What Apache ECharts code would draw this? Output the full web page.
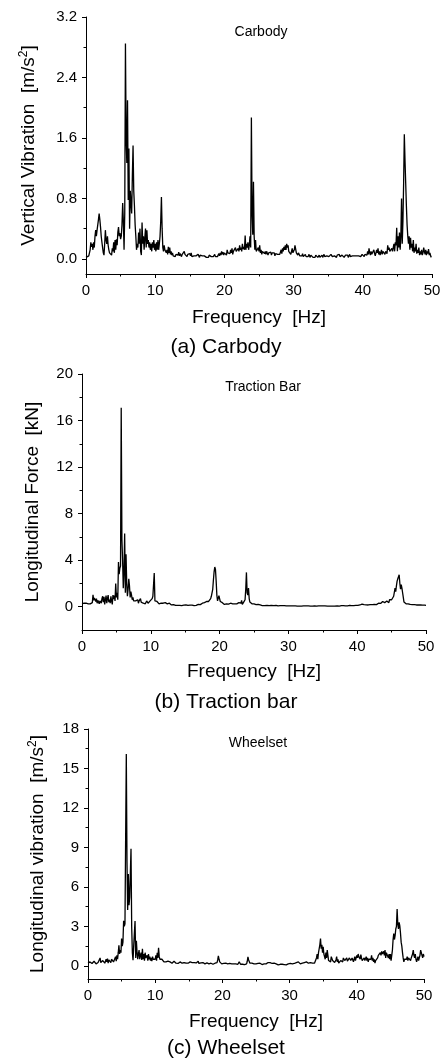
<!DOCTYPE html>
<html>
<head>
<meta charset="utf-8">
<script src="https://cdn.jsdelivr.net/npm/echarts@6/dist/echarts.min.js"></script>
<style>
  html, body { margin: 0; padding: 0; background: #fff; }
  #chart { width: 444px; height: 1061px; }
</style>
</head>
<body>
<div id="chart"></div>
<script>
// spectra sampled every 0.1 Hz from 0 to 50 Hz (one row = 1 Hz)
const freqStep = 0.1;

// (a) carbody vertical vibration, m/s^2
const carbodyAmp = [
  0.02,0.02,0.03,0.03,0.04,0.06,0.12,0.22,0.16,0.2,
  0.12,0.22,0.15,0.3,0.38,0.3,0.38,0.45,0.52,0.6,
  0.52,0.42,0.3,0.22,0.15,0.08,0.05,0.2,0.38,0.25,
  0.2,0.3,0.18,0.12,0.08,0.06,0.1,0.05,0.14,0.1,
  0.22,0.08,0.25,0.12,0.26,0.18,0.35,0.42,0.3,0.34,
  0.26,0.3,0.45,0.74,0.5,0.12,0.6,2.85,1.6,1.27,
  2.1,0.78,1.46,0.4,0.9,0.88,0.6,1.1,1.5,0.9,
  0.7,0.45,0.3,0.12,0.2,0.15,0.35,0.2,0.4,0.1,
  0.05,0.48,0.2,0.3,0.12,0.28,0.4,0.15,0.38,0.2,
  0.25,0.15,0.22,0.12,0.2,0.1,0.22,0.15,0.25,0.12,
  0.2,0.1,0.22,0.12,0.25,0.12,0.2,0.3,0.5,0.82,
  0.4,0.15,0.1,0.18,0.12,0.1,0.08,0.12,0.06,0.16,
  0.08,0.15,0.06,0.1,0.05,0.08,0.04,0.06,0.05,0.03,
  0.06,0.04,0.08,0.05,0.09,0.04,0.07,0.05,0.03,0.06,
  0.08,0.05,0.1,0.06,0.04,0.05,0.03,0.06,0.04,0.05,
  0.07,0.04,0.08,0.03,0.05,0.02,0.04,0.06,0.03,0.04,
  0.05,0.03,0.06,0.04,0.02,0.05,0.03,0.06,0.04,0.03,
  0.02,0.04,0.06,0.03,0.02,0.04,0.03,0.02,0.05,0.07,
  0.04,0.03,0.05,0.02,0.03,0.04,0.06,0.03,0.02,0.04,
  0.03,0.05,0.07,0.04,0.08,0.05,0.1,0.06,0.09,0.05,
  0.08,0.06,0.1,0.05,0.12,0.08,0.06,0.1,0.07,0.12,
  0.08,0.14,0.06,0.1,0.12,0.08,0.15,0.1,0.12,0.08,
  0.14,0.1,0.18,0.12,0.15,0.1,0.2,0.13,0.16,0.12,
  0.31,0.12,0.2,0.15,0.22,0.12,0.18,0.3,0.15,1.87,
  0.6,0.32,1.02,0.3,0.12,0.25,0.1,0.12,0.08,0.15,
  0.1,0.18,0.08,0.12,0.06,0.1,0.08,0.12,0.07,0.1,
  0.06,0.1,0.12,0.05,0.08,0.1,0.06,0.09,0.05,0.08,
  0.1,0.06,0.08,0.04,0.07,0.05,0.09,0.06,0.05,0.04,
  0.06,0.08,0.12,0.07,0.14,0.1,0.16,0.12,0.18,0.12,
  0.2,0.15,0.18,0.1,0.08,0.12,0.06,0.1,0.14,0.08,
  0.06,0.12,0.18,0.2,0.08,0.1,0.05,0.08,0.06,0.04,
  0.05,0.06,0.04,0.07,0.03,0.05,0.04,0.06,0.03,0.05,
  0.04,0.03,0.06,0.04,0.02,0.05,0.03,0.04,0.02,0.03,
  0.04,0.02,0.05,0.03,0.04,0.02,0.03,0.05,0.02,0.04,
  0.03,0.05,0.02,0.04,0.06,0.03,0.05,0.02,0.04,0.03,
  0.05,0.03,0.04,0.02,0.06,0.04,0.03,0.05,0.02,0.04,
  0.03,0.04,0.02,0.05,0.03,0.04,0.06,0.03,0.02,0.04,
  0.05,0.03,0.04,0.02,0.03,0.05,0.04,0.03,0.05,0.02,
  0.04,0.06,0.03,0.05,0.02,0.04,0.03,0.05,0.04,0.03,
  0.06,0.04,0.05,0.03,0.04,0.02,0.05,0.03,0.04,0.06,
  0.04,0.05,0.03,0.06,0.04,0.08,0.05,0.1,0.06,0.14,
  0.08,0.05,0.1,0.06,0.08,0.05,0.12,0.07,0.04,0.06,
  0.12,0.08,0.14,0.06,0.1,0.05,0.08,0.12,0.06,0.1,
  0.08,0.12,0.06,0.1,0.08,0.07,0.18,0.12,0.15,0.1,
  0.12,0.08,0.14,0.1,0.08,0.2,0.1,0.22,0.18,0.41,
  0.1,0.3,0.15,0.35,0.12,0.3,0.8,0.2,0.5,1.0,
  1.65,1.3,1.0,0.7,0.45,0.3,0.2,0.3,0.12,0.28,
  0.15,0.2,0.1,0.25,0.08,0.15,0.1,0.2,0.07,0.12,
  0.08,0.15,0.05,0.1,0.06,0.12,0.05,0.08,0.15,0.1,
  0.06,0.12,0.05,0.1,0.07,0.13,0.05,0.08,0.04,0.02,
  0.02
];

// (b) traction bar longitudinal force, kN
const tractionForce = [
  0.25,0.28,0.26,0.3,0.25,0.27,0.3,0.26,0.28,0.25,
  0.3,0.27,0.25,0.3,0.28,0.35,1.03,0.55,0.75,0.6,
  0.45,0.7,0.3,0.55,0.4,0.25,0.5,0.35,0.3,0.7,
  0.9,0.4,0.85,0.2,0.6,0.95,0.3,0.7,1.0,0.4,
  0.6,0.3,0.9,0.5,0.2,1.0,0.65,0.95,0.5,2.0,
  0.8,1.2,0.6,3.84,2.8,3.3,3.5,17.1,5.8,4.0,
  1.6,3.0,6.3,1.2,4.5,2.0,0.9,1.5,2.4,1.8,
  0.8,1.3,1.0,0.6,0.8,0.5,0.6,0.4,0.5,0.35,
  0.45,0.6,0.3,0.5,0.35,0.7,0.4,0.3,0.45,0.3,
  0.35,0.4,0.25,0.3,0.5,0.35,0.3,0.45,0.4,0.5,
  0.5,0.6,0.7,0.9,1.0,2.9,0.5,0.4,0.35,0.45,
  0.3,0.4,0.25,0.35,0.2,0.3,0.4,0.25,0.3,0.2,
  0.25,0.35,0.2,0.3,0.25,0.4,0.2,0.3,0.15,0.2,
  0.15,0.2,0.12,0.18,0.1,0.15,0.12,0.1,0.14,0.12,
  0.1,0.14,0.12,0.08,0.13,0.1,0.12,0.09,0.14,0.1,
  0.12,0.15,0.1,0.13,0.11,0.16,0.1,0.14,0.12,0.1,
  0.14,0.12,0.18,0.1,0.15,0.2,0.12,0.16,0.14,0.2,
  0.15,0.22,0.18,0.25,0.2,0.3,0.22,0.28,0.35,0.25,
  0.3,0.45,0.4,0.55,0.45,0.6,0.5,0.7,0.9,1.0,
  1.5,2.3,3.0,3.41,3.2,2.2,1.0,0.5,0.6,0.95,
  0.7,0.45,0.4,0.3,0.35,0.25,0.3,0.2,0.28,0.2,
  0.25,0.2,0.3,0.22,0.18,0.25,0.3,0.2,0.45,0.25,
  0.2,0.3,0.25,0.2,0.35,0.25,0.2,0.3,0.35,0.25,
  0.4,0.3,0.55,0.2,0.35,0.4,0.45,0.6,1.5,2.95,
  1.2,1.0,1.6,0.7,0.4,0.5,0.3,0.25,0.35,0.2,
  0.25,0.2,0.3,0.18,0.22,0.15,0.2,0.12,0.18,0.15,
  0.12,0.15,0.1,0.14,0.12,0.1,0.13,0.11,0.1,0.12,
  0.18,0.12,0.1,0.14,0.1,0.12,0.08,0.11,0.1,0.09,
  0.1,0.08,0.12,0.09,0.11,0.08,0.1,0.12,0.09,0.1,
  0.12,0.1,0.15,0.08,0.1,0.09,0.11,0.08,0.1,0.09,
  0.08,0.1,0.09,0.07,0.1,0.08,0.09,0.07,0.08,0.1,
  0.08,0.07,0.09,0.06,0.08,0.07,0.06,0.08,0.07,0.06,
  0.07,0.06,0.08,0.05,0.07,0.06,0.08,0.06,0.05,0.07,
  0.06,0.08,0.05,0.07,0.06,0.05,0.07,0.06,0.08,0.05,
  0.06,0.05,0.07,0.06,0.08,0.05,0.06,0.07,0.05,0.06,
  0.07,0.05,0.06,0.08,0.05,0.07,0.06,0.05,0.07,0.06,
  0.05,0.07,0.06,0.05,0.08,0.06,0.07,0.05,0.06,0.07,
  0.06,0.08,0.07,0.09,0.06,0.08,0.07,0.1,0.08,0.07,
  0.09,0.07,0.1,0.08,0.09,0.11,0.08,0.1,0.09,0.12,
  0.1,0.12,0.09,0.11,0.13,0.1,0.12,0.14,0.11,0.13,
  0.15,0.12,0.16,0.2,0.15,0.25,0.18,0.22,0.15,0.2,
  0.18,0.15,0.2,0.16,0.14,0.18,0.15,0.2,0.16,0.18,
  0.2,0.15,0.18,0.22,0.17,0.2,0.16,0.22,0.18,0.2,
  0.22,0.3,0.25,0.35,0.28,0.4,0.3,0.45,0.3,0.5,
  0.35,0.45,0.3,0.5,0.4,0.55,0.35,0.6,0.45,0.5,
  0.6,0.5,0.7,0.9,1.0,1.6,1.3,1.8,2.2,2.4,
  2.3,2.75,2.0,1.5,1.9,1.6,1.2,0.8,0.4,0.3,
  0.35,0.25,0.3,0.2,0.25,0.18,0.22,0.2,0.15,0.2,
  0.18,0.2,0.15,0.18,0.14,0.2,0.15,0.17,0.13,0.15,
  0.18,0.14,0.16,0.12,0.15,0.13,0.16,0.12,0.14,0.15,
  0.12
];

// (c) wheelset longitudinal vibration, m/s^2
const wheelsetAmp = [
  0.2,0.25,0.15,0.3,0.2,0.25,0.18,0.3,0.22,0.35,
  0.2,0.28,0.15,0.3,0.22,0.25,0.3,0.2,0.6,0.25,
  0.3,0.15,0.4,0.25,0.45,0.2,0.35,0.5,0.3,0.55,
  0.2,0.45,0.3,0.55,0.25,0.5,0.35,0.6,0.3,0.45,
  0.4,0.7,0.35,0.8,0.5,1.0,1.57,0.9,1.2,1.0,
  2.08,1.5,1.8,3.43,3.0,3.2,3.3,16.1,8.0,4.24,
  6.98,4.6,5.2,7.0,8.9,3.0,1.0,0.43,1.5,2.5,
  3.4,0.6,1.9,1.0,0.5,0.9,1.2,0.5,0.8,1.0,
  0.45,1.3,0.5,0.9,0.4,1.0,0.6,0.5,0.8,0.4,
  0.9,0.5,0.7,0.4,0.6,0.35,0.7,0.5,0.4,0.6,
  0.5,0.8,0.4,1.0,0.6,1.37,0.7,0.5,0.6,0.4,
  0.5,0.35,0.45,0.3,0.4,0.35,0.3,0.45,0.3,0.35,
  0.25,0.4,0.3,0.25,0.35,0.2,0.3,0.25,0.35,0.2,
  0.3,0.2,0.25,0.3,0.18,0.25,0.2,0.3,0.22,0.25,
  0.2,0.3,0.22,0.25,0.18,0.3,0.2,0.25,0.3,0.2,
  0.25,0.2,0.3,0.22,0.18,0.25,0.3,0.2,0.25,0.2,
  0.3,0.22,0.25,0.2,0.35,0.18,0.25,0.2,0.22,0.18,
  0.2,0.25,0.18,0.22,0.15,0.2,0.18,0.22,0.15,0.2,
  0.15,0.18,0.12,0.2,0.15,0.18,0.12,0.15,0.18,0.2,
  0.15,0.2,0.25,0.45,0.76,0.5,0.3,0.2,0.25,0.15,
  0.2,0.12,0.18,0.1,0.15,0.2,0.12,0.18,0.15,0.2,
  0.12,0.18,0.1,0.2,0.15,0.12,0.25,0.15,0.1,0.18,
  0.15,0.1,0.2,0.12,0.18,0.3,0.15,0.12,0.2,0.15,
  0.12,0.2,0.15,0.1,0.2,0.18,0.15,0.35,0.69,0.45,
  0.3,0.2,0.25,0.15,0.2,0.12,0.18,0.15,0.2,0.12,
  0.15,0.2,0.12,0.18,0.1,0.15,0.2,0.12,0.15,0.1,
  0.18,0.12,0.15,0.2,0.1,0.15,0.12,0.18,0.25,0.15,
  0.2,0.25,0.15,0.12,0.18,0.1,0.15,0.2,0.12,0.1,
  0.15,0.1,0.12,0.08,0.15,0.1,0.12,0.08,0.1,0.12,
  0.08,0.12,0.1,0.15,0.1,0.08,0.12,0.1,0.15,0.1,
  0.12,0.18,0.15,0.25,0.15,0.2,0.12,0.18,0.15,0.2,
  0.25,0.15,0.2,0.3,0.18,0.25,0.15,0.2,0.28,0.2,
  0.3,0.2,0.25,0.15,0.2,0.3,0.18,0.25,0.2,0.15,
  0.2,0.25,0.15,0.3,0.2,0.25,0.35,0.2,0.13,0.15,
  0.6,0.9,0.5,1.0,1.3,1.6,2.08,1.3,1.6,1.0,
  1.45,0.9,0.7,0.5,1.0,0.6,1.2,0.8,0.4,0.3,
  0.5,0.3,0.7,0.6,0.4,0.3,0.5,0.25,0.3,0.45,
  0.7,0.3,0.5,0.2,0.35,0.25,0.4,0.3,0.5,0.3,
  0.6,0.7,0.4,0.5,0.3,0.6,0.35,0.5,0.25,0.6,
  0.7,0.4,0.3,0.6,0.5,0.3,0.5,0.7,0.4,0.5,
  0.8,0.6,0.9,0.7,0.8,0.5,0.85,0.6,0.4,0.5,
  0.3,0.6,0.4,0.5,0.7,0.4,0.6,0.3,0.5,0.4,
  0.6,0.5,0.8,0.4,0.6,0.3,0.5,0.2,0.4,0.3,
  0.5,0.6,0.8,0.7,0.9,1.0,0.8,1.1,0.9,1.0,
  1.1,0.8,1.2,0.6,1.0,0.9,1.1,0.6,0.9,0.5,
  0.9,0.4,0.8,1.2,2.0,2.46,2.0,2.3,2.8,3.0,
  4.31,3.2,2.8,3.3,3.04,2.5,1.8,1.5,1.0,0.6,
  0.3,0.5,0.4,0.6,0.5,0.7,0.4,0.6,0.5,0.7,
  0.4,0.6,0.5,0.9,1.2,0.8,0.6,0.9,0.5,0.3,
  0.5,0.7,0.4,0.6,0.8,1.2,1.0,0.8,0.6,0.9,
  0.7
];

// tick labels
const freqTicks = [0, 10, 20, 30, 40, 50];
const carbodyTicks = [0, 0.8, 1.6, 2.4, 3.2];
const carbodyMinor = [0.4, 1.2, 2.0, 2.8];
const tractionTicks = [0, 4, 8, 12, 16, 20];
const tractionMinor = [2, 6, 10, 14, 18];
const wheelsetTicks = [0, 3, 6, 9, 12, 15, 18];
const wheelsetMinor = [1.5, 4.5, 7.5, 10.5, 13.5, 16.5];

const FONT = 'Liberation Sans, Arial, sans-serif';

const panels = [
  {
    data: carbodyAmp, ticks: carbodyTicks, minor: carbodyMinor, min: -0.2, max: 3.2, digits: 1,
    grid: { left: 86, top: 17, width: 346, height: 257 },
    yName: 'Vertical Vibration  [m/s{sup|2}]', yGap: 47, xGap: 34,
    note: 'Carbody', noteX: 261, noteY: 32,
    caption: '(a) Carbody', captionY: 347
  },
  {
    data: tractionForce, ticks: tractionTicks, minor: tractionMinor, min: -2, max: 20, digits: 0,
    grid: { left: 82, top: 374, width: 344, height: 256 },
    yName: 'Longitudinal Force  [kN]', yGap: 40, xGap: 32,
    note: 'Traction Bar', noteX: 263, noteY: 387,
    caption: '(b) Traction bar', captionY: 702
  },
  {
    data: wheelsetAmp, ticks: wheelsetTicks, minor: wheelsetMinor, min: -1, max: 18, digits: 0,
    grid: { left: 88, top: 729, width: 336, height: 250 },
    yName: 'Longitudinal vibration  [m/s{sup|2}]', yGap: 40, xGap: 33,
    note: 'Wheelset', noteX: 258, noteY: 743,
    caption: '(c) Wheelset', captionY: 1048
  }
];

const black = '#000';
const nameStyle = {
  color: black, fontFamily: FONT, fontSize: 19,
  rich: { sup: { fontSize: 12, fontFamily: FONT, color: black, verticalAlign: 'top', padding: [0, 0, 9, 0] } }
};

const grid = [], xAxis = [], yAxis = [], series = [], graphic = [];

panels.forEach((p, i) => {
  grid.push(Object.assign({}, p.grid));
  xAxis.push({
    type: 'value', gridIndex: i, min: 0, max: 50, interval: 10, position: 'bottom',
    name: 'Frequency  [Hz]', nameLocation: 'middle', nameGap: p.xGap, nameTextStyle: nameStyle,
    axisLine: { onZero: false, lineStyle: { color: black, width: 1 } },
    axisTick: { length: 4, lineStyle: { color: black } },
    minorTick: { show: true, splitNumber: 2, length: 2.5, lineStyle: { color: black } },
    axisLabel: { color: black, fontFamily: FONT, fontSize: 15, margin: 9,
      customValues: freqTicks },
    splitLine: { show: false }
  });
  yAxis.push({
    type: 'value', gridIndex: i, min: p.min, max: p.max, position: 'left',
    name: p.yName, nameLocation: 'middle', nameGap: p.yGap, nameTextStyle: nameStyle,
    axisLine: { show: true, onZero: false, lineStyle: { color: black, width: 1 } },
    axisTick: { show: true, length: 4, customValues: p.ticks, lineStyle: { color: black } },
    axisLabel: { color: black, fontFamily: FONT, fontSize: 15, margin: 9,
      customValues: p.ticks, formatter: v => Number(v).toFixed(p.digits) },
    splitLine: { show: false }
  });
  // second axis on the same side, only for the short minor ticks
  yAxis.push({
    type: 'value', gridIndex: i, min: p.min, max: p.max, position: 'left', offset: 0,
    axisLine: { show: false, onZero: false },
    axisTick: { show: true, length: 2.5, customValues: p.minor, lineStyle: { color: black } },
    axisLabel: { show: false },
    splitLine: { show: false }
  });
  series.push({
    type: 'line', xAxisIndex: i, yAxisIndex: 2 * i,
    data: p.data.map((v, k) => [+(k * freqStep).toFixed(1), v]),
    showSymbol: false, symbol: 'none',
    lineStyle: { color: black, width: 1.3 },
    animation: false
  });
  graphic.push({
    type: 'text', x: p.noteX, y: p.noteY,
    style: { text: p.note, fill: black, font: '14px ' + FONT, textAlign: 'center', textVerticalAlign: 'middle' }
  });
  graphic.push({
    type: 'text', x: 226, y: p.captionY,
    style: { text: p.caption, fill: black, font: '21px ' + FONT, textAlign: 'center', textVerticalAlign: 'middle' }
  });
});

const chart = echarts.init(document.getElementById('chart'));
chart.setOption({
  backgroundColor: '#fff',
  animation: false,
  grid, xAxis, yAxis, series, graphic
});
</script>
</body>
</html>
